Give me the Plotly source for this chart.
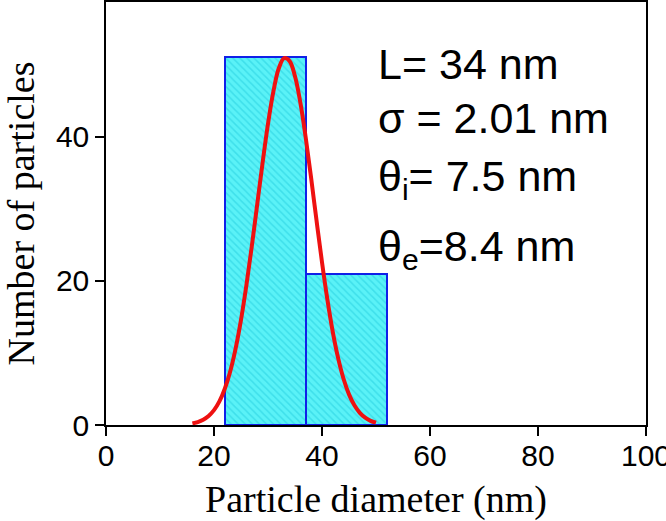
import plotly.graph_objects as go

# Histogram bins (nm) and counts
bin_left = [22, 37]
bin_width = [15, 15]
counts = [51, 21]

# Fitted distribution curve
curve_x = [16, 17, 18, 19, 20, 21, 22, 23, 24, 25, 26, 27, 28, 29, 30, 31, 32, 33,
           34, 35, 36, 37, 38, 39, 40, 41, 42, 43, 44, 45, 46, 47, 48, 49, 50]
curve_y = [0.22, 0.41, 0.73, 1.25, 2.06, 3.27, 5.03, 7.43, 10.6, 14.6, 19.4, 24.8,
           30.6, 36.4, 41.8, 46.3, 49.5, 50.9, 50.5, 48.4, 44.7, 39.8, 34.2, 28.3,
           22.6, 17.4, 12.9, 9.25, 6.38, 4.25, 2.73, 1.69, 1.01, 0.58, 0.32]

x_ticks = [0, 20, 40, 60, 80, 100]
y_ticks = [0, 20, 40]

labels = ["L= 34 nm", "σ = 2.01 nm", "θ<sub>i</sub>= 7.5 nm", "θ<sub>e</sub>=8.4 nm"]
label_y = [50.1, 42.6, 34.2, 24.4]

fig = go.Figure()
fig.add_trace(go.Bar(
    x=bin_left, y=counts, width=bin_width, offset=0,
    marker=dict(color="#4DEEF4",
                line=dict(color="#1020E8", width=2),
                pattern=dict(shape="\\", fgcolor="#22CCDD", bgcolor="#5AF2F7",
                             size=5, solidity=0.3)),
    showlegend=False,
))
fig.add_trace(go.Scatter(
    x=curve_x, y=curve_y, mode="lines",
    line=dict(color="#EE1111", width=4, shape="spline"),
    showlegend=False,
))

for t, yv in zip(labels, label_y):
    fig.add_annotation(x=50, y=yv, xref="x", yref="y", text=t, showarrow=False,
                       xanchor="left", yanchor="middle",
                       font=dict(family="Liberation Sans, Arial", size=43, color="black"))

axis_common = dict(showline=True, linecolor="black", linewidth=1.5, mirror=True,
                   ticks="outside", ticklen=9, tickwidth=1.5, tickcolor="black",
                   showgrid=False, zeroline=False, automargin=False,
                   ticklabeloverflow="allow",
                   tickfont=dict(family="Liberation Sans, Arial", size=30, color="black"))

fig.update_xaxes(range=[0, 100], tickvals=x_ticks, ticklabelstandoff=-6, **axis_common,
                 title=dict(text="Particle diameter (nm)", standoff=16,
                            font=dict(family="Liberation Serif, Times New Roman", size=38,
                                      color="black")))
fig.update_yaxes(range=[0, 58.7], tickvals=y_ticks, **axis_common,
                 title=dict(text="Number of particles", standoff=16,
                            font=dict(family="Liberation Serif, Times New Roman", size=38,
                                      color="black")))

fig.update_layout(width=666, height=521, margin=dict(l=106, r=20, t=2, b=96),
                  paper_bgcolor="white", plot_bgcolor="white", bargap=0)

fig.write_html("out.html", config={"displayModeBar": False},
               post_script="document.body.style.margin='0';document.body.style.overflow='hidden';")
